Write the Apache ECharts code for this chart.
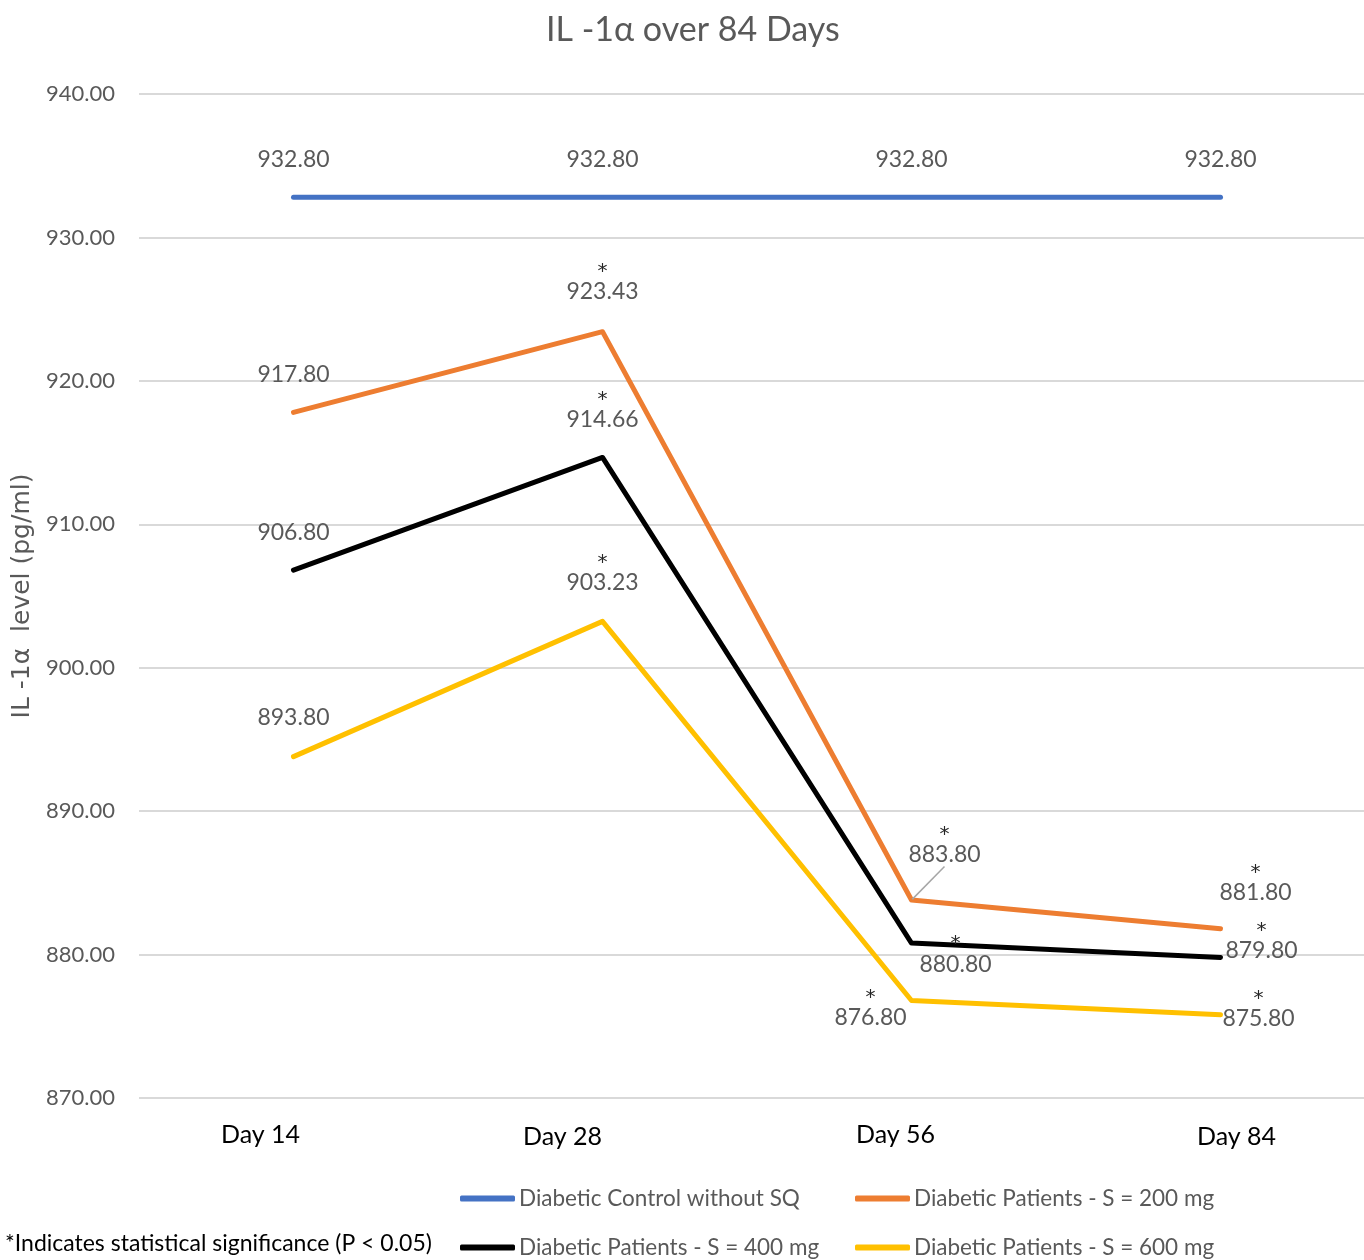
<!DOCTYPE html>
<html>
<head>
<meta charset="utf-8">
<script src="https://cdn.jsdelivr.net/npm/echarts@6/dist/echarts.min.js"></script>
<style>
html,body{margin:0;padding:0;background:#fff;}
#chart{width:1364px;height:1260px;}
</style>
</head>
<body>
<div id="chart"></div>
<script>
// ---- data ----
const categories = ['Day 14', 'Day 28', 'Day 56', 'Day 84'];
const seriesNames = ['Diabetic Control without SQ', 'Diabetic Patients - S = 200 mg', 'Diabetic Patients - S = 400 mg', 'Diabetic Patients - S = 600 mg'];
const control = [932.80, 932.80, 932.80, 932.80];
const dose200 = [917.80, 923.43, 883.80, 881.80];
const dose400 = [906.80, 914.66, 880.80, 879.80];
const dose600 = [893.80, 903.23, 876.80, 875.80];
// significance flags (asterisk shown above value)
const sigControl = [false, false, false, false];
const sig200 = [false, true, true, true];
const sig400 = [false, true, true, true];
const sig600 = [false, true, true, true];
const yMin = 870, yMax = 940, yStep = 10;
const footnote = '*Indicates statistical significance (P < 0.05)';
const titleText = 'IL -1\u03b1 over 84 Days';
const yName = 'IL -1\u03b1  level (pg/ml)';

// ---- layout / style (not data) ----
const FONT = 'Lato, "Open Sans", sans-serif';
const colors = ['#4472C4', '#ED7D31', '#000000', '#FFC000'];
// label offsets (px) of number centre relative to point
const labelOffsets = [
  [[0, -38], [0, -38], [0, -38], [0, -38]],
  [[0, -38], [0, -40], [33, -45], [35, -36]],
  [[0, -38], [0, -38], [44, 21], [41, -7]],
  [[0, -39], [0, -39], [-41, 17], [38, 4]]
];
// data points with a leader line to their label: [seriesIdx, dataIdx]
const leaderLines = [[1, 2]];
const xLabelShift = [-33, -40, -16, 16];
const xLabelDy = [0, 1, -2, 1];

const rich = {
  s: {fontSize: 20, lineHeight: 14, color: '#262626', fontFamily: '"DejaVu Sans", sans-serif'},
  v: {fontSize: 23, lineHeight: 26, color: '#595959', fontFamily: FONT}
};

function mkSeries(idx, values, sig) {
  const color = colors[idx];
  return {
    name: seriesNames[idx],
    type: 'line',
    data: values.map((v, i) => {
      const item = {
        value: v,
        label: {offset: [labelOffsets[idx][i][0], labelOffsets[idx][i][1] - (sig[i] ? 7 : 0)]}
      };
      if (leaderLines.some(l => l[0] === idx && l[1] === i)) {
        item.labelLine = {show: true, lineStyle: {color: '#a6a6a6', width: 1.5}};
      }
      return item;
    }),
    symbol: 'circle',
    symbolSize: 2,
    itemStyle: {color: color},
    lineStyle: {width: 5, color: color, cap: 'round', join: 'round'},
    emphasis: {disabled: true},
    label: {
      show: true,
      position: 'inside',
      formatter: p => (sig[p.dataIndex] ? '{s|*}\n' : '') + '{v|' + p.value.toFixed(2) + '}',
      rich: rich,
      align: 'center',
      verticalAlign: 'middle'
    },
    z: 2 + idx
  };
}

const xRich = {};
categories.forEach((c, i) => {
  const s = xLabelShift[i];
  xRich['c' + i] = {
    fontSize: 25, color: '#000', fontFamily: FONT,
    padding: [xLabelDy[i] > 0 ? xLabelDy[i] * 2 : 0, s < 0 ? -2 * s : 0, xLabelDy[i] < 0 ? -xLabelDy[i] * 2 : 0, s > 0 ? 2 * s : 0]
  };
});

function mkLegend(idx, left, top) {
  return {
    data: [seriesNames[idx]],
    left: left, top: top,
    icon: 'roundRect',
    itemWidth: 55, itemHeight: 6,
    itemGap: 0,
    selectedMode: false,
    textStyle: {fontSize: 22.5, color: '#595959', fontFamily: FONT, padding: [0, 0, 0, -1]}
  };
}

const chart = echarts.init(document.getElementById('chart'), null, {renderer: 'canvas'});
chart.setOption({
  backgroundColor: '#fff',
  animation: false,
  title: {
    text: titleText,
    left: 541, top: 8,
    textStyle: {fontSize: 34, fontWeight: 'normal', color: '#595959', fontFamily: FONT}
  },
  legend: [
    mkLegend(0, 455, 1182),
    mkLegend(1, 850, 1182),
    mkLegend(2, 455, 1231),
    mkLegend(3, 850, 1231)
  ],
  grid: {left: 139, top: 94, width: 1236, height: 1004, containLabel: false, outerBoundsMode: 'none'},
  xAxis: {
    type: 'category',
    data: categories,
    boundaryGap: true,
    axisLine: {show: false},
    axisTick: {show: false},
    axisLabel: {
      margin: 24,
      formatter: (v) => '{c' + categories.indexOf(v) + '|' + v + '}',
      rich: xRich
    }
  },
  yAxis: {
    type: 'value',
    min: yMin, max: yMax, interval: yStep,
    name: yName,
    nameLocation: 'middle',
    nameGap: 85,
    nameTextStyle: {fontSize: 25, color: '#595959', fontFamily: '"DejaVu Sans", sans-serif'},
    axisLine: {show: false},
    axisTick: {show: false},
    axisLabel: {
      margin: 24,
      formatter: v => v.toFixed(2),
      fontSize: 22, color: '#595959', fontFamily: FONT
    },
    splitLine: {lineStyle: {color: '#d9d9d9', width: 2}}
  },
  graphic: [{
    type: 'text',
    left: 5, top: 1232,
    style: {text: footnote, fontSize: 23, fill: '#000', fontFamily: FONT}
  }],
  series: [
    mkSeries(0, control, sigControl),
    mkSeries(1, dose200, sig200),
    mkSeries(2, dose400, sig400),
    mkSeries(3, dose600, sig600)
  ]
});
</script>
</body>
</html>
